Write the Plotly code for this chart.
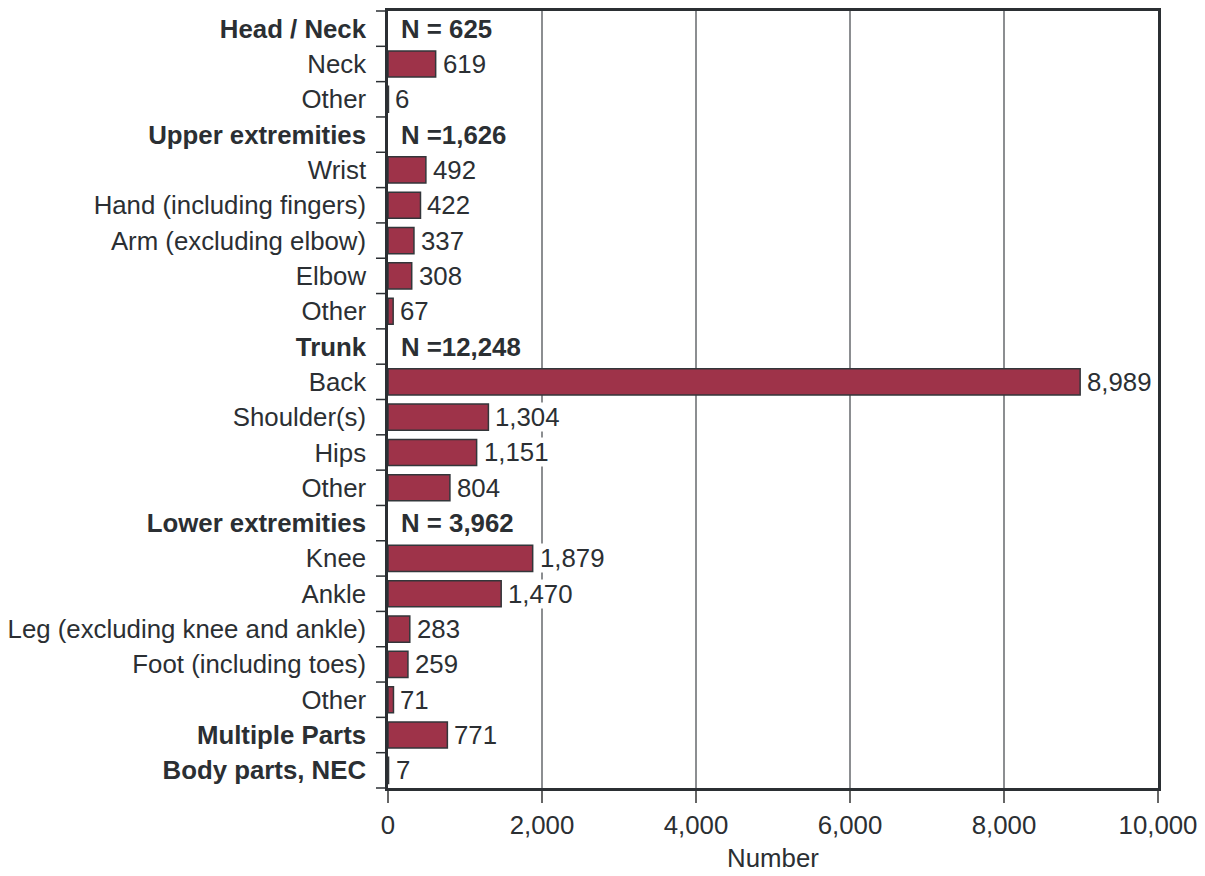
import plotly.graph_objects as go

categories = [
    "<b>Head / Neck</b>", "Neck", "Other",
    "<b>Upper extremities</b>", "Wrist", "Hand (including fingers)", "Arm (excluding elbow)", "Elbow", "Other",
    "<b>Trunk</b>", "Back", "Shoulder(s)", "Hips", "Other",
    "<b>Lower extremities</b>", "Knee", "Ankle", "Leg (excluding knee and ankle)", "Foot (including toes)", "Other",
    "<b>Multiple Parts</b>", "<b>Body parts, NEC</b>",
]
values = [
    None, 619, 6,
    None, 492, 422, 337, 308, 67,
    None, 8989, 1304, 1151, 804,
    None, 1879, 1470, 283, 259, 71,
    771, 7,
]
group_totals = {
    0: "N = 625",
    3: "N =1,626",
    9: "N =12,248",
    14: "N = 3,962",
}
x_ticks = [0, 2000, 4000, 6000, 8000, 10000]
x_tick_labels = ["0", "2,000", "4,000", "6,000", "8,000", "10,000"]

# make duplicate category names unique with zero-width spaces
seen = {}
ycats = []
for c in categories:
    n = seen.get(c, 0)
    seen[c] = n + 1
    ycats.append(c + "\u200b" * n)

TXT = "#2b2f33"
FONT = "Liberation Sans, Arial, sans-serif"
FS = 25.8

W, H = 1197, 868
ML, MR, MT, MB = 380, 47, 0, 88
plot_w = W - ML - MR

fig = go.Figure()
fig.add_trace(go.Bar(
    x=values, y=ycats, orientation="h",
    marker=dict(color="#9e3349", line=dict(color="#33363a", width=1.5)),
    width=0.74, hoverinfo="skip",
))

for i, v in enumerate(values):
    if v is not None:
        fig.add_annotation(x=v, y=ycats[i], text=f"{v:,}", xanchor="left", xshift=6,
                           showarrow=False, bgcolor="white", borderpad=0,
                           font=dict(size=FS, color=TXT, family=FONT))
for i, t in group_totals.items():
    fig.add_annotation(x=0, y=ycats[i], text=f"<b>{t}</b>", xanchor="left", xshift=11,
                       showarrow=False, font=dict(size=FS, color=TXT, family=FONT))

# category boundary ticks on the y axis
n = len(ycats)
for k in range(n + 1):
    yy = 1 - k / n
    fig.add_shape(type="line", xref="paper", yref="paper",
                  x0=-12 / plot_w, x1=0, y0=yy, y1=yy,
                  line=dict(color="#2b2f33", width=1.5), layer="above")

fig.update_layout(
    width=W, height=H,
    margin=dict(l=ML, r=MR, t=MT, b=MB),
    paper_bgcolor="white", plot_bgcolor="white",
    showlegend=False,
    font=dict(family=FONT, size=FS, color=TXT),
)
fig.update_xaxes(
    range=[0, 10000], tickvals=x_ticks, ticktext=x_tick_labels,
    showgrid=True, gridcolor="#8c8e91", gridwidth=1.5,
    showline=True, linecolor=TXT, linewidth=2.5, mirror=True,
    ticks="outside", ticklen=12, tickcolor="#666", tickwidth=1.5,
    tickfont=dict(size=FS, color=TXT),
    title=dict(text="Number", font=dict(size=FS, color=TXT), standoff=12),
    zeroline=False,
)
fig.update_yaxes(
    type="category", categoryorder="array", categoryarray=ycats,
    autorange="reversed",
    showgrid=False,
    showline=True, linecolor=TXT, linewidth=2.5, mirror=True,
    ticks="", ticklabelstandoff=14,
    tickfont=dict(size=FS, color=TXT),
)

fig.write_html("out.html")
